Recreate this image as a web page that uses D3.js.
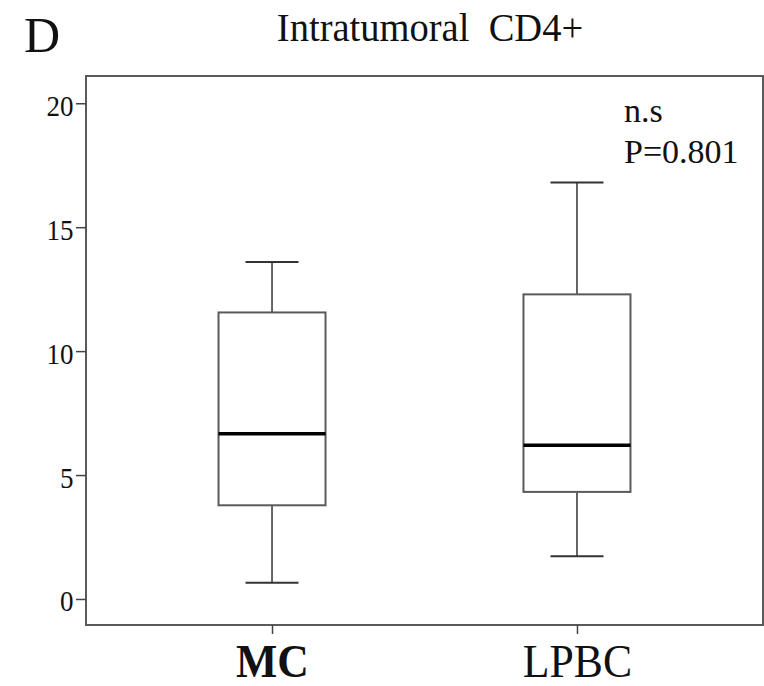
<!DOCTYPE html>
<html>
<head>
<meta charset="utf-8">
<script src="https://cdn.jsdelivr.net/npm/d3@7"></script>
<style>
  body { margin: 0; background: #fff; }
  svg text { font-family: "Times New Roman", "Liberation Serif", serif; fill: #111; }
</style>
</head>
<body>
<svg id="chart" width="764" height="686"></svg>
<script>
// Box plot of intratumoral CD4+ counts, MC vs LPBC

let groups = ["MC", "LPBC"];
let lowerWhisker = [0.65, 1.72];
let q1 = [3.78, 4.32];
let medians = [6.67, 6.2];
let q3 = [11.56, 12.29];
let upperWhisker = [13.6, 16.8];
let yTicks = [0, 5, 10, 15, 20];

let FONT = "'Times New Roman', 'Liberation Serif', serif";

let svg = d3.select("#chart");
let plotLeft = 86, plotRight = 763, plotTop = 76, plotBottom = 625;

let y = d3.scaleLinear().domain([-1.05, 21.1]).range([plotBottom, plotTop]);
let x = d3.scalePoint().domain(groups).range([plotLeft, plotRight]).padding(0.61);

let boxW = 107, capW = 53;

let data = groups.map(function(g, i) {
  return {name: g, lo: lowerWhisker[i], q1: q1[i], med: medians[i], q3: q3[i], hi: upperWhisker[i]};
});

// the source figure is slightly squeezed horizontally
function label(px, py, size, sx, txt) {
  return svg.append("text")
    .attr("transform", "translate(" + px + "," + py + ") scale(" + sx + ",1)")
    .attr("font-size", size)
    .attr("xml:space", "preserve")
    .style("font-family", FONT)
    .text(txt);
}

// frame
svg.append("rect")
  .attr("x", plotLeft).attr("y", plotTop)
  .attr("width", plotRight - plotLeft).attr("height", plotBottom - plotTop)
  .attr("fill", "none").attr("stroke", "#5a5a5a").attr("stroke-width", 2);

// y axis
let yAxis = svg.append("g")
  .attr("transform", "translate(" + plotLeft + ",0)")
  .call(d3.axisLeft(y).tickValues(yTicks).tickSize(10).tickPadding(4));
yAxis.select(".domain").remove();
yAxis.selectAll(".tick line").attr("stroke", "#444").attr("stroke-width", 1.5);
yAxis.selectAll(".tick text")
  .attr("font-size", 30).attr("fill", "#111")
  .attr("dy", "0.4em")
  .attr("transform", "scale(0.9,1)")
  .style("font-family", FONT);

// x axis
let xAxis = svg.append("g")
  .attr("transform", "translate(0," + plotBottom + ")")
  .call(d3.axisBottom(x).tickSize(9).tickPadding(0));
xAxis.select(".domain").remove();
xAxis.selectAll(".tick line").attr("stroke", "#444").attr("stroke-width", 1.5);
xAxis.selectAll(".tick text")
  .attr("font-size", 47).attr("fill", "#111")
  .attr("y", 52).attr("dy", 0)
  .attr("transform", "scale(0.93,1)")
  .style("font-family", FONT)
  .style("font-weight", function(d) { return d === "MC" ? "bold" : "normal"; });

// boxes
let box = svg.append("g").selectAll("g.box")
  .data(data)
  .enter().append("g")
  .attr("class", "box");

box.append("line")
  .attr("x1", function(d) { return x(d.name); })
  .attr("x2", function(d) { return x(d.name); })
  .attr("y1", function(d) { return y(d.hi); })
  .attr("y2", function(d) { return y(d.q3); })
  .attr("stroke", "#333").attr("stroke-width", 1.5);

box.append("line")
  .attr("x1", function(d) { return x(d.name); })
  .attr("x2", function(d) { return x(d.name); })
  .attr("y1", function(d) { return y(d.q1); })
  .attr("y2", function(d) { return y(d.lo); })
  .attr("stroke", "#333").attr("stroke-width", 1.5);

box.selectAll("line.cap")
  .data(function(d) { return [{name: d.name, v: d.hi}, {name: d.name, v: d.lo}]; })
  .enter().append("line")
  .attr("class", "cap")
  .attr("x1", function(d) { return x(d.name) - capW / 2; })
  .attr("x2", function(d) { return x(d.name) + capW / 2; })
  .attr("y1", function(d) { return y(d.v); })
  .attr("y2", function(d) { return y(d.v); })
  .attr("stroke", "#333").attr("stroke-width", 2);

box.append("rect")
  .attr("x", function(d) { return x(d.name) - boxW / 2; })
  .attr("y", function(d) { return y(d.q3); })
  .attr("width", boxW)
  .attr("height", function(d) { return y(d.q1) - y(d.q3); })
  .attr("fill", "#fff").attr("stroke", "#5a5a5a").attr("stroke-width", 2);

box.append("line")
  .attr("x1", function(d) { return x(d.name) - boxW / 2; })
  .attr("x2", function(d) { return x(d.name) + boxW / 2; })
  .attr("y1", function(d) { return y(d.med); })
  .attr("y2", function(d) { return y(d.med); })
  .attr("stroke", "#000").attr("stroke-width", 3.5);

// texts
label(24, 52, 50, 1, "D");
label(430, 41, 41, 0.94, "Intratumoral  CD4+").attr("text-anchor", "middle");
label(624, 122, 34, 1, "n.s");
label(624, 163, 34, 1, "P=0.801");
</script>
</body>
</html>
